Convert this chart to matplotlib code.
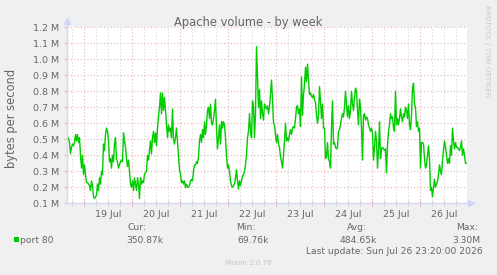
import numpy as np
import pandas as pd
import matplotlib
matplotlib.use('Agg')
import matplotlib.pyplot as plt
import matplotlib.dates as mdates
from matplotlib.patches import Rectangle
from matplotlib.ticker import FuncFormatter, NullFormatter

# port 80 volume, M bytes/s, one reading per 30 min, oldest first
seg1 = [0.68, 0.59, 0.50, 0.51, 0.48, 0.41, 0.45, 0.47, 0.46, 0.48,
        0.53, 0.49, 0.53, 0.48, 0.51, 0.40, 0.32, 0.40, 0.28, 0.34,
        0.28, 0.23, 0.23, 0.22, 0.21, 0.18, 0.24, 0.21, 0.14, 0.13,
        0.14, 0.15, 0.22, 0.18, 0.26, 0.22, 0.30, 0.28, 0.47, 0.43,
        0.53, 0.57, 0.55, 0.49, 0.36, 0.38, 0.32, 0.40, 0.36, 0.47,
        0.51, 0.38, 0.36, 0.32, 0.34, 0.36, 0.37, 0.36]
seg2 = [0.54, 0.49, 0.45, 0.38, 0.33, 0.37, 0.30, 0.22, 0.20, 0.24,
        0.18, 0.26, 0.22, 0.18, 0.26, 0.22, 0.13, 0.26, 0.22, 0.24,
        0.23, 0.28, 0.29, 0.30, 0.40, 0.37, 0.43, 0.49, 0.41, 0.51,
        0.55, 0.48, 0.54, 0.46, 0.57, 0.64, 0.70, 0.79, 0.66, 0.79,
        0.68, 0.76, 0.68, 0.59, 0.51, 0.59, 0.55, 0.57, 0.51, 0.69,
        0.50, 0.47, 0.51, 0.57, 0.48, 0.39, 0.31, 0.28, 0.23]
seg3 = [0.24, 0.22, 0.24, 0.20, 0.22, 0.20, 0.20, 0.21, 0.24, 0.25,
        0.24, 0.30, 0.34, 0.34, 0.36, 0.35, 0.39, 0.49, 0.53, 0.48,
        0.56, 0.51, 0.61, 0.53, 0.59, 0.68, 0.70, 0.63, 0.72, 0.60,
        0.59, 0.63, 0.68, 0.75, 0.57, 0.44, 0.51, 0.59, 0.47, 0.61,
        0.57, 0.61, 0.59, 0.51, 0.40, 0.32, 0.34, 0.30, 0.24, 0.21,
        0.20, 0.21, 0.22, 0.26, 0.31, 0.24, 0.19, 0.24]
seg4 = [0.21, 0.24, 0.27, 0.28, 0.30, 0.34, 0.40, 0.51, 0.55, 0.66,
        0.55, 0.51, 0.74, 0.71, 0.51, 0.66, 1.08, 0.88, 0.70, 0.81,
        0.63, 0.74, 0.66, 0.62, 0.72, 0.70, 0.69, 0.71, 0.66, 0.70,
        0.79, 0.87, 0.75, 0.60, 0.59, 0.53, 0.48, 0.53, 0.47, 0.45,
        0.39, 0.36, 0.32, 0.40, 0.49, 0.60, 0.49, 0.51, 0.49, 0.53,
        0.56, 0.53, 0.57, 0.58, 0.57, 0.63, 0.70, 0.71]
seg5 = [0.66, 0.69, 0.58, 0.89, 0.65, 0.78, 0.84, 0.95, 0.86, 0.97,
        0.88, 0.78, 0.79, 0.77, 0.76, 0.78, 0.75, 0.73, 0.65, 0.60,
        0.65, 0.83, 0.74, 0.63, 0.72, 0.57, 0.57, 0.38, 0.39, 0.48,
        0.38, 0.36, 0.32, 0.57, 0.74, 0.47, 0.48, 0.45, 0.44, 0.45,
        0.55, 0.56, 0.59, 0.63, 0.66, 0.64, 0.70, 0.80, 0.72, 0.64,
        0.71, 0.63, 0.68, 0.80, 0.72, 0.68, 0.76, 0.82]
seg6 = [0.80, 0.68, 0.59, 0.75, 0.70, 0.57, 0.37, 0.65, 0.66, 0.62,
        0.64, 0.63, 0.59, 0.57, 0.55, 0.57, 0.54, 0.37, 0.45, 0.55,
        0.49, 0.32, 0.43, 0.61, 0.38, 0.44, 0.45, 0.44, 0.43, 0.44,
        0.29, 0.46, 0.55, 0.59, 0.66, 0.63, 0.64, 0.57, 0.55, 0.80,
        0.59, 0.63, 0.59, 0.63, 0.69, 0.64, 0.61, 0.66, 0.64, 0.70,
        0.68, 0.63, 0.72, 0.59, 0.56, 0.65, 0.82, 0.85]
seg7 = [0.72, 0.70, 0.58, 0.61, 0.55, 0.57, 0.32, 0.48, 0.48, 0.47,
        0.38, 0.32, 0.34, 0.40, 0.46, 0.38, 0.18, 0.20, 0.14, 0.20,
        0.25, 0.20, 0.22, 0.24, 0.28, 0.34, 0.30, 0.28, 0.37, 0.43,
        0.49, 0.45, 0.40, 0.35, 0.38, 0.35, 0.46, 0.40, 0.57, 0.49,
        0.44, 0.48, 0.45, 0.45, 0.44, 0.43, 0.45, 0.49, 0.40, 0.44,
        0.40, 0.35, 0.35]

y_ticks = [0.1, 0.2, 0.3, 0.4, 0.5, 0.6, 0.7, 0.8, 0.9, 1.0, 1.1, 1.2]
day_labels = ['19 Jul', '20 Jul', '21 Jul', '22 Jul', '23 Jul', '24 Jul', '25 Jul', '26 Jul']
stat_names = ['Cur:', 'Min:', 'Avg:', 'Max:']
stat_values = ['350.87k', '69.76k', '484.65k', '3.30M']
last_update = pd.Timestamp('2026-07-26 23:20:00')

volume = np.array(seg1 + seg2 + seg3 + seg4 + seg5 + seg6 + seg7) * 1e6
times = pd.date_range(end=last_update, periods=len(volume), freq='30min')
day_noons = pd.date_range('2026-07-19 12:00', periods=len(day_labels), freq='D')

W, H = 497, 275
BG = '#F0F0F0'
FONT = '#666666'
AXIS = '#CFD6F8'
MGRID = '#E8B2B2'
GRID = '#D6D6D6'
GREEN = '#00CC00'

fig = plt.figure(figsize=(W / 100, H / 100), dpi=100, facecolor=BG)
left, right, top, bottom = 66.5, 466.5, 27.3, 203.3
ax = fig.add_axes([left / W, 1 - bottom / H, (right - left) / W, (bottom - top) / H])
ax.set_facecolor('white')

ax.plot(times, volume, color=GREEN, linewidth=1.0)

ax.set_xlim(last_update - pd.Timedelta(hours=200), last_update)
ax.set_ylim(0.1e6, 1.2e6)

ax.xaxis.set_major_locator(mdates.DayLocator())
ax.xaxis.set_minor_locator(mdates.HourLocator(byhour=[0, 6, 12, 18]))
ax.xaxis.set_major_formatter(NullFormatter())
ax.set_yticks([v * 1e6 for v in y_ticks])
ax.yaxis.set_major_formatter(FuncFormatter(lambda v, p: f'{v / 1e6:.1f} M'))

dots = (0, (1, 2))
ax.xaxis.grid(True, which='major', color=MGRID, linestyle=dots, linewidth=0.8)
ax.xaxis.grid(True, which='minor', color=GRID, linestyle=dots, linewidth=0.8)
ax.yaxis.grid(True, which='major', color=MGRID, linestyle=dots, linewidth=0.8)
ax.set_axisbelow(True)

ax.tick_params(axis='x', which='major', direction='inout', length=4, color=MGRID, width=0.8)
ax.tick_params(axis='x', which='minor', direction='inout', length=4, color=GRID, width=0.8)
ax.tick_params(axis='y', direction='out', length=2.5, color=MGRID, width=0.8,
               pad=3, labelsize=6.8, labelcolor=FONT)

for s in ax.spines.values():
    s.set_visible(False)

# axis lines with arrows
ax.plot([0, 0], [0, 1.035], transform=ax.transAxes, color=AXIS, lw=0.9, clip_on=False)
ax.plot([-0.004, 1.012], [0, 0], transform=ax.transAxes, color=AXIS, lw=0.9, clip_on=False)
ax.plot([0], [1.035], marker='^', markersize=4, color=AXIS, transform=ax.transAxes, clip_on=False)
ax.plot([1.012], [0], marker='>', markersize=4, color=AXIS, transform=ax.transAxes, clip_on=False)

for d, lab in zip(day_noons, day_labels):
    ax.text(d, -(217.3 - bottom) / (bottom - top), lab, transform=ax.get_xaxis_transform(),
            ha='center', va='baseline', fontsize=6.8, color=FONT)

def fx(px):
    return px / W

def fy(py):
    return 1 - py / H

fig.text(fx(248), fy(26), 'Apache volume - by week', ha='center', va='baseline',
         fontsize=8.3, color=FONT)
fig.text(fx(11.5), fy(118), 'bytes per second', rotation=90, ha='center', va='center',
         fontsize=8.3, color=FONT)
fig.text(fx(487), fy(51), 'RRDTOOL / TOBI OETIKER', rotation=270, ha='center', va='center',
         fontsize=5.1, color='#C8C8C8')

# legend block
name_x = [127.5, 236.5, 346.5, 456]
value_x = [126.5, 237.5, 339.5, 452.5]
for nx, name in zip(name_x, stat_names):
    fig.text(fx(nx), fy(230), name, ha='left', va='baseline', fontsize=6.6, color=FONT)
for vx, val in zip(value_x, stat_values):
    fig.text(fx(vx), fy(242.7), val, ha='left', va='baseline', fontsize=6.6, color=FONT)
fig.patches.append(Rectangle((fx(14), fy(242.3)), 5.3 / W, 5 / H, transform=fig.transFigure,
                             facecolor=GREEN, edgecolor='none'))
fig.text(fx(20), fy(242.7), 'port 80', ha='left', va='baseline', fontsize=6.6, color=FONT)
fig.text(fx(482.5), fy(254.3), 'Last update: ' + last_update.strftime('%a %b %d %H:%M:%S %Y'),
         ha='right', va='baseline', fontsize=6.6, color=FONT)
fig.text(fx(248), fy(265), 'Munin 2.0.76', ha='center', va='baseline', fontsize=5.1, color='#C4C4C4')

fig.savefig('out.png', dpi=100, facecolor=BG)
